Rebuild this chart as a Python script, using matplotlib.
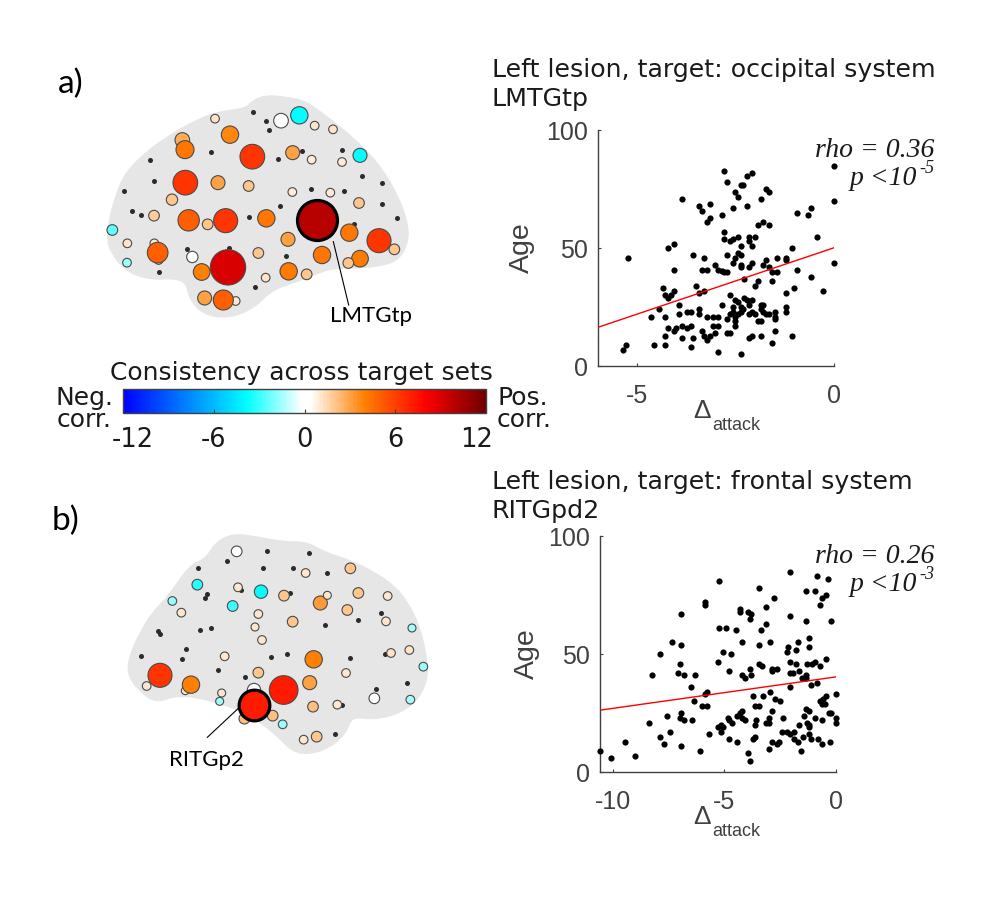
import matplotlib
matplotlib.use('Agg')
import matplotlib.pyplot as plt
from matplotlib.colors import LinearSegmentedColormap
from matplotlib.path import Path
from matplotlib.patches import PathPatch
from matplotlib.cm import ScalarMappable
from matplotlib.colors import Normalize
from matplotlib.transforms import ScaledTranslation
import numpy as np

plt.rcParams['font.family'] = 'Liberation Sans'
plt.rcParams['axes.unicode_minus'] = False

W, H = 1000, 916
GREY = '#404040'
INK = '#1a1a1a'
BRAIN = '#e6e6e6'

# scatter a) : attack delta vs age
attack_a = [-2.80,-2.08,-2.22,-2.72,-2.37,-2.31,-2.51,-2.44,-1.73,-1.64,-1.86,-3.86,-3.15,-3.44,-3.36,-2.58,-2.22,-2.86,-3.15,-3.22,
            -1.93,-1.80,-1.64,-0.94,-0.58,-0.65,0,0,-0.43,0,-2.80,-2.80,-2.65,-2.58,-2.44,-2.15,-2.01,-2.15,-2.08,-2.37,
            -4.22,-4.08,-5.23,-1.08,-3.58,-3.30,-2.72,-2.44,-2.36,-2.51,-2.58,-1.44,-1.22,-1.22,-1.73,-1.80,-2.08,-2.15,-2.37,-2.37,
            -3.02,-2.94,-2.86,-2.80,-2.73,-3.36,-3.22,-4.08,-1.64,-1.58,-1.44,-0.94,-0.58,-2.29,-1.93,-2.01,-1.58,-3.51,-3.30,-3.44,
            -4.36,-4.08,-4.30,-4.22,-4.15,-2.65,-2.29,-2.08,-2.51,-2.44,-2.22,-2.15,-2.86,-3.94,-4.44,-1.86,-1.80,-1.86,-1.22,-1.22,
            -1.01,-1.22,-0.29,-2.58,-2.37,-2.37,-2.31,-2.58,-2.65,-2.44,-2.15,-2.08,-2.01,-1.80,-1.73,-1.64,-1.51,-1.51,-1.51,-2.51,
            -2.72,-2.51,-2.51,-1.93,-1.86,-3.44,-3.44,-3.73,-3.64,-3.94,-4.66,-4.30,-3.22,-3.08,-2.94,-3.08,-2.94,-3.86,-3.64,-3.73,
            -4.22,-4.01,-4.08,-3.36,-3.30,-3.15,-3.22,-3.02,-2.72,-2.65,-1.51,-1.08,-1.86,-2.08,-2.15,-4.30,-3.86,-3.58,-1.58,-5.30,
            -5.37,-4.58,-4.30,-3.64,-2.94,-2.37]
age_a = [82.8,81.8,80.6,77.8,76.7,76.7,73.9,71.8,74.9,73.9,70.8,70.8,68.8,67.8,65.8,66.8,67.8,63.8,62.9,60.9,
         59.9,60.9,59.9,64.8,66.8,63.8,84.7,69.8,54.8,43.8,56.8,53.8,52.8,53.8,54.8,54.8,54.8,52.8,50.8,50.8,
         49.9,51.8,45.8,49.9,46.9,45.9,46.9,47.9,46.9,45.9,43.8,45.9,45.9,44.8,44.8,42.8,43.8,41.8,42.8,41.8,
         42.8,40.8,40.4,39.8,39.8,40.8,40.8,40.8,41.8,39.8,39.8,40.8,37.9,36.9,35.9,33.9,35.9,33.9,31.9,30.9,
         32.9,31.9,29.9,29.0,29.9,29.9,29.0,28.0,28.0,27.0,28.0,26.0,26.0,26.0,24.0,26.0,26.0,24.0,25.0,23.0,
         32.9,30.9,31.9,25.0,25.0,23.0,24.0,23.0,22.0,22.0,22.0,23.0,22.0,23.0,22.0,22.0,23.0,20.9,19.9,20.9,
         19.9,18.9,16.9,18.9,18.9,24.0,22.0,23.0,23.0,22.0,20.9,20.9,20.9,20.9,20.9,16.9,16.9,16.9,16.9,16.0,
         16.0,16.0,15.0,15.0,12.9,12.9,11.0,13.8,13.8,13.8,15.0,12.9,12.9,12.9,11.9,12.9,11.9,11.9,9.9,8.9,
         6.8,8.9,8.9,7.9,5.9,4.9]
fit_x_a = [-6, 0]
fit_y_a = [16.4, 50.1]

# scatter b)
attack_b = [-2.07,-0.87,-0.36,-5.22,-3.43,-1.36,-0.93,-2.79,-0.45,-0.64,-0.72,-5.87,-5.87,-3.15,-4.28,-4.28,-3.96,-3.79,-3.85,-6.94,
            -2.07,-1.36,-0.21,-3.15,-5.22,-4.93,-4.49,-3.36,-1.22,-7.36,-6.94,-4.22,-3.43,-2.94,-1.72,-2.13,-1.78,-1.22,-2.21,-7.87,
            -5.07,-4.72,-5.30,-7.0,-2.07,-1.79,-1.30,-1.09,-0.93,-0.45,-0.72,-3.43,-3.33,-3.85,-2.85,-2.66,-2.85,-4.79,-1.64,-2.07,
            -1.94,-7.07,-6.79,-6.30,-8.22,-4.22,-4.07,-3.79,-1.36,-1.54,-1.36,-0.87,-1.13,-6.51,-2.07,-5.79,-5.87,-2.94,-3.72,-3.28,
            -2.72,-2.51,0,-0.45,-0.57,-0.72,-0.64,-0.49,-6.36,-6.01,-5.79,-3.64,-3.43,-1.36,-1.22,-4.22,-4.28,-2.87,-6.94,-7.58,
            -1.43,-0.30,-0.21,-7.0,-6.79,-6.43,-8.36,-4.85,-4.43,-4.22,-4.07,-4.78,-4.64,-3.0,-2.36,-0.93,0,-0.64,0,-3.57,
            -3.15,-3.0,-3.64,-1.30,-1.64,-1.22,-1.22,-5.30,-5.13,-5.04,-5.13,-2.43,-2.21,-2.07,-1.87,-7.43,-5.70,-7.87,-1.22,-1.49,
            -1.13,-1.87,-1.72,-0.79,-0.64,-0.27,-3.64,-3.70,-4.79,-4.43,-2.87,-2.66,-2.57,-9.43,-7.72,-6.94,-3.0,-10.57,-6.07,-1.57,
            -3.93,-9.0,-10.07,-3.85]
age_b = [84.9,82.9,81.9,80.9,77.9,76.9,76.9,73.8,74.8,73.8,70.9,71.9,70.9,69.9,68.9,67.9,67.9,66.9,64.9,66.9,
         65.9,63.9,63.9,62.9,61.0,61.0,60.0,60.0,56.9,54.9,53.9,54.9,53.9,54.9,54.9,52.9,51.9,52.9,50.9,49.9,
         50.9,49.9,46.8,45.8,46.8,45.8,45.8,45.8,46.8,47.8,44.8,45.8,44.8,43.8,43.8,43.8,42.9,42.9,42.9,41.9,
         41.9,41.9,40.9,40.9,40.9,40.9,39.9,40.9,40.9,39.9,39.9,37.9,36.9,35.9,35.9,33.9,33.0,33.9,32.0,32.0,
         31.0,30.0,33.0,32.0,31.0,30.0,29.0,29.0,30.0,28.0,28.0,28.0,28.0,26.9,25.9,25.9,25.0,25.9,24.9,23.9,
         23.9,24.9,24.9,22.9,21.9,21.9,20.9,22.9,23.9,22.9,21.9,21.9,20.9,22.9,22.9,22.9,22.9,21.9,20.9,21.9,
         20.9,20.9,19.9,20.9,19.9,19.9,19.0,19.0,19.9,19.0,17.0,17.0,17.0,16.0,17.0,17.0,16.0,14.9,16.0,14.9,
         13.9,13.9,12.9,13.9,11.9,12.9,14.9,13.9,13.9,12.9,12.9,11.9,12.9,12.9,11.9,10.9,9.8,8.9,8.9,8.9,
         7.9,6.8,5.8,4.8]
fit_x_b = [-10.57, 0]
fit_y_b = [26.2, 40.3]

# brain outlines, in the 1020x750 frame of each brain panel
outline_a_x = [55,60,80,110,170,240,310,380,470,490,530,580,640,690,730,790,840,880,920,950,950,920,860,800,720,650,590,540,490,420,340,300,295,260,180,110,70]
outline_a_y = [450,400,320,250,190,140,100,70,60,35,20,25,35,70,100,150,200,250,320,400,460,510,525,530,530,560,580,600,650,680,670,620,580,560,565,540,490]
outline_b_x = [55,65,100,130,180,240,290,320,370,440,520,590,640,720,790,850,890,925,945,950,925,880,800,720,705,640,560,510,450,400,300,200,140,90]
outline_b_y = [430,370,300,250,200,110,90,40,15,25,40,40,70,95,130,170,220,290,380,440,500,540,565,555,610,660,670,620,570,540,505,490,515,480]

# small black nodes
dots_a_x = [490,528,537,637,755,817,877,875,922,763,663,570,565,363,179,192,101,125,154,478,793,588,418,291,206,495]
dots_a_y = [67,92,119,184,180,257,280,342,383,303,298,349,206,185,210,274,303,362,376,380,403,497,473,477,547,590]
dots_b_x = [472,598,352,264,458,549,652,292,286,392,540,814,744,645,302,271,144,151,229,217,92,826,530,482,721,325,405,799,891,696,676]
dots_b_y = [62,69,94,113,115,113,128,192,204,181,190,248,270,284,295,301,304,311,358,386,378,372,372,381,385,421,442,478,458,524,612]

# coloured nodes
nodes_a_x = [375,420,277,285,487,573,628,674,729,608,665,756,810,286,384,476,246,607,721,807,192,296,353,407,529,680,778,594,867,913,67,112,193,206,203,111,307,505,414,335,696,810,775,596,650,527,344,437,400]
nodes_a_y = [86,134,150,179,200,92,76,107,118,188,209,216,196,278,278,288,329,306,308,339,377,391,403,392,385,391,428,448,452,478,420,460,460,510,488,518,501,489,532,546,495,506,519,544,553,563,624,633,630]
nodes_a_r = [13,26,22,27,37,22,26,13,13,21,13,13,21,37,21,16,17,13,13,16,16,32,16,36,26,60,26,21,36,16,16,13,13,13,31,13,17,16,53,25,26,25,16,26,16,13,21,13,30]
nodes_a_v = [1.2,3.8,2.8,4.3,6.3,0,-3.8,1.2,1.2,3,1,1,-3.8,6.3,3,2,2,1,1,2,1.8,5,2,6.3,4.3,10,4.3,3,6.3,2,-2.5,1.2,1,1,5,-1.6,0,2,9,4,4.3,4.2,2,4.2,2,1.2,3,1,5]
nodes_b_x = [380,721,587,262,384,453,522,745,833,187,214,368,631,652,712,445,548,828,435,906,456,344,611,898,843,940,445,708,150,110,226,243,335,329,432,521,599,793,901,609,682,403,488,431,518,581,620]
nodes_b_y = [64,115,129,164,172,185,197,189,198,213,248,228,219,196,240,252,275,274,291,294,330,379,388,360,369,410,428,429,436,468,482,464,489,514,480,480,458,505,509,530,524,566,557,526,583,629,620]
nodes_b_r = [16,16,13,16,13,20,16,16,13,13,13,16,21,12,16,13,16,13,12,12,13,13,26,13,13,13,16,13,36,13,12,26,12,12,20,43,21,16,13,16,13,16,16,46,13,13,16]
nodes_b_v = [0,2,1.1,-3.2,1.1,-3.8,2,2,1.1,-1.6,1.1,-3,3.2,1.1,2,1.1,2,1.1,1.1,-1.6,1.1,1.1,4,1.2,1.2,-1.6,2,1.1,6.3,1.1,1.1,4,1.1,-1.6,0.1,7.2,3,0,-1.5,2.2,1.1,2.2,2.2,7.2,-1.6,1.1,2]
hub_a = 25   # index of LMTGtp
hub_b = 43   # index of RITGp2

cbar_ticks = [-12, -6, 0, 6, 12]
cmap = LinearSegmentedColormap.from_list('consist', [
    (0.0, '#0000ff'), (8.2 / 24, '#00ffff'), (11.8 / 24, '#ffffff'), (12.4 / 24, '#ffffff'),
    (16 / 24, '#ff8000'), (20 / 24, '#ff0000'), (1.0, '#700000')])
norm = Normalize(-12, 12)


def px_axes(fig, left, top, right, bottom, **kw):
    return fig.add_axes([left / W, 1 - bottom / H, (right - left) / W, (bottom - top) / H], **kw)


def ptext(fig, x, y, s, **kw):
    # text placed by picture pixels, y is the baseline unless va says otherwise
    kw.setdefault('va', 'baseline')
    return fig.text(x / W, 1 - y / H, s, **kw)


def outline_path(xs, ys):
    # smooth closed outline, quadratic segments through the midpoints
    pts = np.column_stack([xs, ys]).astype(float)
    mids = (pts + np.roll(pts, -1, axis=0)) / 2
    verts = [mids[-1]]
    codes = [Path.MOVETO]
    for p, m in zip(pts, mids):
        verts += [p, m]
        codes += [Path.CURVE3, Path.CURVE3]
    return Path(verts, codes)


def brain(fig, left, top, ox, oy, dx, dy, nx, ny, nr, nv, hub):
    ax = px_axes(fig, left, top, left + 340, top + 250)
    ax.set_xlim(0, 1020)
    ax.set_ylim(750, 0)
    ax.axis('off')
    ax.add_patch(PathPatch(outline_path(ox, oy), fc=BRAIN, ec=BRAIN, lw=3))
    ax.scatter(dx, dy, s=13, c='#2b2b2b', lw=0, zorder=2)
    size = (2 * np.array(nr) / 3 * 0.72) ** 2
    keep = np.arange(len(nx)) != hub
    ax.scatter(np.array(nx)[keep], np.array(ny)[keep], s=size[keep], c=np.array(nv)[keep], cmap=cmap, norm=norm,
               edgecolors='#4a4a4a', linewidths=0.8, zorder=3)
    ax.scatter([nx[hub]], [ny[hub]], s=size[hub], c=[nv[hub]], cmap=cmap, norm=norm,
               edgecolors='black', linewidths=2.3, zorder=4)
    return ax


def scatter_panel(fig, left, top, right, bottom, xs, ys, fx, fy, xlim, xticks, title1, title2, title_y, rho, pval, exponent, text_y, age_x):
    ax = px_axes(fig, left, top, right, bottom)
    ax.scatter(xs, ys, s=20, c='black', lw=0, zorder=3, clip_on=False)
    ax.plot(fx, fy, color='red', lw=1, zorder=4)
    ax.set_xlim(*xlim)
    ax.set_ylim(0, 100)
    ax.set_xticks(xticks)
    ax.set_yticks([0, 50, 100])
    ax.tick_params(direction='in', length=2.5, width=0.8, colors=GREY, labelsize=18)
    ax.tick_params(axis='x', pad=13)
    ax.tick_params(axis='y', pad=7)
    ax.patch.set_alpha(0)
    for s in ['top', 'right']:
        ax.spines[s].set_visible(False)
    for s in ['left', 'bottom']:
        ax.spines[s].set_color(GREY)
        ax.spines[s].set_linewidth(1)
    ax.set_ylabel('Age', fontsize=20.5, color=GREY)
    ax.yaxis.set_label_coords(age_x / (right - left), 0.5)
    ptext(fig, 693, bottom + 52, '\u0394', fontsize=19, color=GREY)
    ptext(fig, 712, bottom + 64, 'attack', fontsize=13, color=GREY)
    ptext(fig, 492, title_y, title1, fontsize=18.2, family='DejaVu Sans', color=INK)
    ptext(fig, 492, title_y + 29, title2, fontsize=18.2, family='DejaVu Sans', color=INK)
    ptext(fig, 934, text_y, rho, fontsize=20, family='Liberation Serif', style='italic', ha='right', color=INK)
    ptext(fig, 917, text_y + 28, pval, fontsize=20, family='Liberation Serif', style='italic', ha='right', color=INK)
    ptext(fig, 919, text_y + 16, exponent, fontsize=13, family='Liberation Serif', style='italic', ha='left', color=INK)
    return ax


fig = plt.figure(figsize=(W / 100, H / 100), dpi=100)

ax1 = brain(fig, 90, 90, outline_a_x, outline_a_y, dots_a_x, dots_a_y, nodes_a_x, nodes_a_y, nodes_a_r, nodes_a_v, hub_a)
ax1.plot([730, 776], [455, 645], color='black', lw=0.8, zorder=5, clip_on=False)
ax1.text(842, 678, 'LMTGtp', fontsize=16, family='Lato', color='black', ha='center', va='center', clip_on=False)
ax2 = brain(fig, 110, 530, outline_b_x, outline_b_y, dots_b_x, dots_b_y, nodes_b_x, nodes_b_y, nodes_b_r, nodes_b_v, hub_b)
ax2.plot([385, 292], [535, 622], color='black', lw=0.8, zorder=2, clip_on=False)
ax2.text(290, 690, 'RITGp2', fontsize=16, family='Lato', color='black', ha='center', va='center', clip_on=False)

ptext(fig, 58, 84, 'a)', fontsize=24, family='Lato', va='center')
ptext(fig, 52, 521, 'b)', fontsize=24, family='Lato', va='center')

scatter_panel(fig, 598, 130, 834, 366, attack_a, age_a, fit_x_a, fit_y_a, (-6, 0), [-5, 0],
              'Left lesion, target: occipital system', 'LMTGtp', 77, 'rho = 0.36', 'p <10', '-5', 157, -63)
scatter_panel(fig, 600, 536, 836, 772, attack_b, age_b, fit_x_b, fit_y_b, (-10.57, 0), [-10, -5, 0],
              'Left lesion, target: frontal system', 'RITGpd2', 489, 'rho = 0.26', 'p <10', '-3', 563, -60)

# shared colourbar
cax = px_axes(fig, 123, 389, 486, 413)
cb = fig.colorbar(ScalarMappable(norm=norm, cmap=cmap), cax=cax, orientation='horizontal', ticks=cbar_ticks)
cb.ax.tick_params(direction='in', length=3, width=0.8, labelsize=18.5, color=GREY, labelcolor=INK, pad=10)
cb.outline.set_edgecolor(GREY)
cb.outline.set_linewidth(1)
# end labels sit inside the bar ends in the original
for lab, dx in zip(cb.ax.get_xticklabels(), [10, 0, 0, 0, -9]):
    lab.set_family('DejaVu Sans')
    lab.set_transform(lab.get_transform() + ScaledTranslation(dx / 100, 0, fig.dpi_scale_trans))
ptext(fig, 110, 380, 'Consistency across target sets', fontsize=18, family='DejaVu Sans', color=INK)
ptext(fig, 113, 405, 'Neg.', fontsize=18, family='DejaVu Sans', ha='right', color=INK)
ptext(fig, 112, 427, 'corr.', fontsize=18, family='DejaVu Sans', ha='right', color=INK)
ptext(fig, 497, 405, 'Pos.', fontsize=18, family='DejaVu Sans', ha='left', color=INK)
ptext(fig, 497, 427, 'corr.', fontsize=18, family='DejaVu Sans', ha='left', color=INK)

fig.savefig('out.png', dpi=100)
